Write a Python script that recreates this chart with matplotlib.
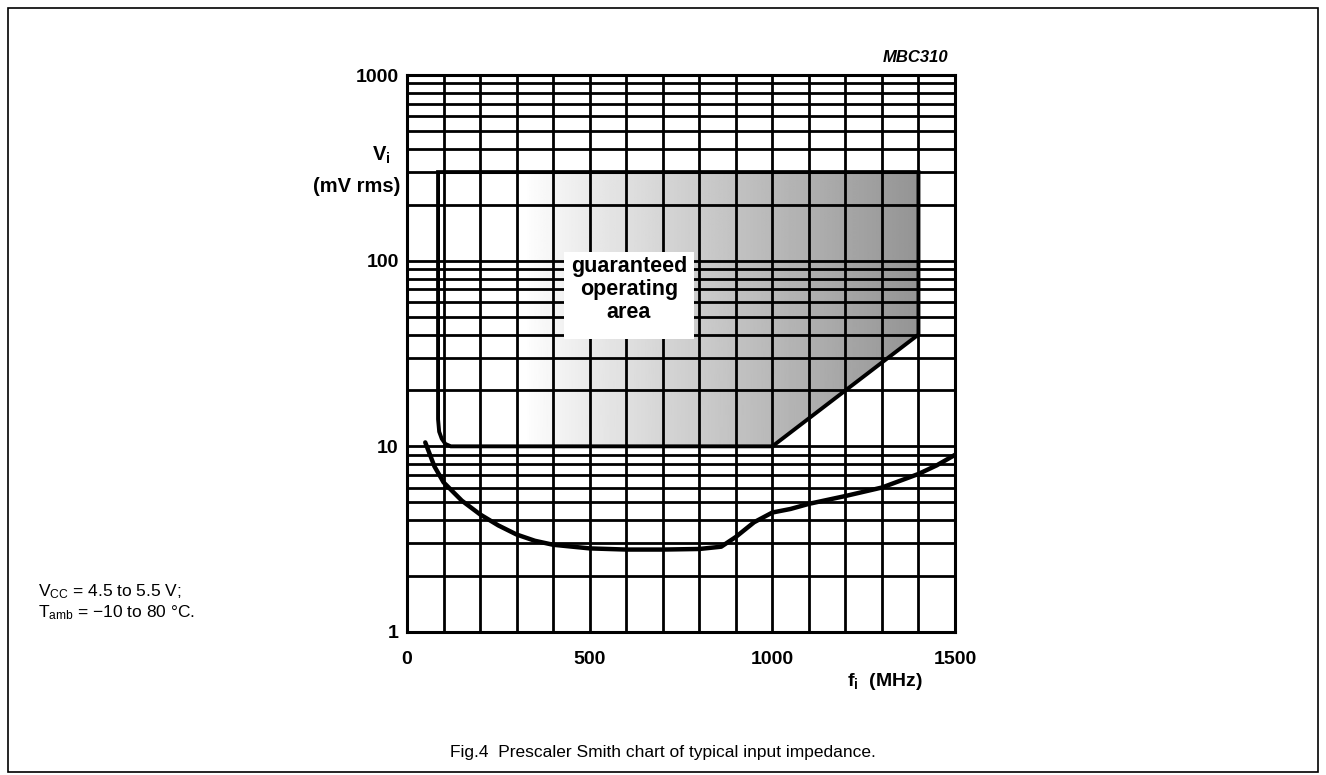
import numpy as np
import matplotlib
matplotlib.use("Agg")
import matplotlib.pyplot as plt
from matplotlib.patches import Polygon, Rectangle
from matplotlib.ticker import MultipleLocator, LogLocator, NullFormatter

plt.rcParams['font.family'] = ['Liberation Sans', 'DejaVu Sans']
plt.rcParams['mathtext.default'] = 'regular'

# ---------------- data ----------------
x_tick_values = [0, 500, 1000, 1500]
x_tick_labels = ["0", "500", "1000", "1500"]
y_tick_values = [1, 10, 100, 1000]
y_tick_labels = ["1", "10", "100", "1000"]

# typical sensitivity curve (f in MHz, Vi in mV rms)
curve_f = [50, 75, 100, 150, 200, 250, 300, 350, 400, 500, 600, 700, 800,
           860, 900, 950, 1000, 1050, 1100, 1200, 1300, 1400, 1450, 1500]
curve_v = [10.5, 7.8, 6.4, 5.1, 4.3, 3.75, 3.35, 3.1, 2.95, 2.82, 2.78, 2.78, 2.8,
           2.88, 3.25, 3.9, 4.4, 4.6, 4.9, 5.4, 6.0, 7.1, 7.9, 9.0]

# guaranteed operating area boundary
area_f = [85, 85, 88, 95, 105, 120, 1000, 1400, 1400]
area_v = [300, 14, 12, 11, 10.3, 10, 10, 40, 300]

# label box of the area (f range, V range)
box_f = [430, 785]
box_v = [38, 112]

# ---------------- figure ----------------
fig = plt.figure(figsize=(13.26, 7.75), dpi=100)
ax = fig.add_axes([407/1326, 1-632/775, 548/1326, 557/775])
ax.set_yscale('log')

# shading gradient clipped to operating area
xs = np.linspace(0, 1500, 600)
shade = 1 - 0.42 * np.clip((xs - 320) / 1080, 0, 1) ** 0.9
img = np.tile(shade, (2, 1))
im = ax.imshow(img, extent=[0, 1500, 1, 1000], aspect='auto', cmap='gray',
               vmin=0, vmax=1, origin='lower', interpolation='bilinear', zorder=1)
area = Polygon(np.column_stack([area_f, area_v]), closed=True,
               transform=ax.transData, facecolor='none', edgecolor='black',
               linewidth=2.8, zorder=4)
ax.add_patch(area)
im.set_clip_path(area)

# white label box
ax.add_patch(Rectangle((box_f[0], box_v[0]), box_f[1]-box_f[0], box_v[1]-box_v[0],
                       facecolor='white', edgecolor='none', zorder=3))
ax.text(np.mean(box_f), 70, "guaranteed\noperating\narea",
        ha='center', va='center', fontsize=15.5, fontweight='bold', linespacing=1.12,
        zorder=5)

# curve
ax.plot(curve_f, curve_v, color='black', linewidth=3.2, zorder=4,
        solid_capstyle='round', solid_joinstyle='round')

ax.set_xlim(0, 1500)
ax.set_ylim(1, 1000)

ax.set_xticks(x_tick_values, labels=x_tick_labels)
ax.xaxis.set_minor_locator(MultipleLocator(100))
ax.set_yticks(y_tick_values, labels=y_tick_labels)
ax.yaxis.set_minor_locator(LogLocator(base=10, subs=range(2, 10), numticks=20))
ax.yaxis.set_minor_formatter(NullFormatter())
ax.grid(which='both', color='black', linewidth=2.0)
ax.set_axisbelow(False)
ax.tick_params(which='both', length=0)
ax.tick_params(axis='x', pad=14, labelsize=14)
ax.tick_params(axis='y', pad=6, labelsize=14)
for lbl in ax.get_xticklabels() + ax.get_yticklabels():
    lbl.set_fontweight('bold')
for sp in ax.spines.values():
    sp.set_linewidth(2.2)

# axis labels
fig.text(372/1326, 1-155/775, "V$_i$", ha='left', va='center', fontsize=14.5, fontweight='bold')
fig.text(357/1326, 1-187/775, "(mV rms)", ha='center', va='center', fontsize=14.5, fontweight='bold')
fig.text(885/1326, 1-682/775, "f$_i$  (MHz)", ha='center', va='center', fontsize=14, fontweight='bold')
fig.text(948/1326, 1-58/775, "MBC310", ha='right', va='center', fontsize=12,
         fontweight='bold', style='italic')

# notes
fig.text(38/1326, 1-592/775, "V$_{CC}$ = 4.5 to 5.5 V;", ha='left', va='center', fontsize=12.5)
fig.text(38/1326, 1-613/775, "T$_{amb}$ = \u221210 to 80 \u00b0C.", ha='left', va='center', fontsize=12.5)
fig.text(663/1326, 1-752/775, "Fig.4  Prescaler Smith chart of typical input impedance.",
         ha='center', va='center', fontsize=12.5)

# outer border
fig.add_artist(Rectangle((8/1326, 3/775), 1310/1326, 764/775, transform=fig.transFigure,
                         fill=False, edgecolor='black', linewidth=1.2))

fig.savefig("out.png", dpi=100)
